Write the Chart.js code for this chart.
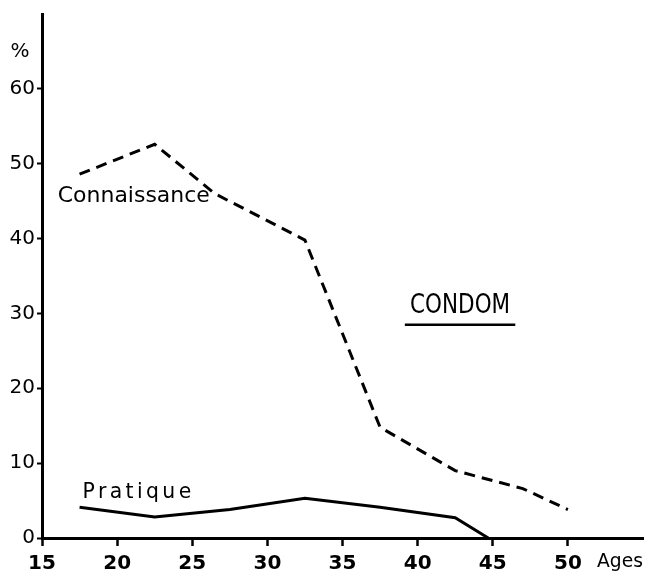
<!DOCTYPE html>
<html>
<head>
<meta charset="utf-8">
<script src="https://cdn.jsdelivr.net/npm/chart.js@4/dist/chart.umd.min.js"></script>
<style>
  html, body { margin: 0; padding: 0; background: #fff; }
  #wrap { width: 656px; height: 581px; }
</style>
</head>
<body>
<div id="wrap"><canvas id="c" width="656" height="581"></canvas></div>
<script>
// Data
const connaissanceAges = [17.5, 22.5, 26.5, 32.5, 37.5, 42.5, 47, 50];
const connaissanceValues = [48.6, 52.6, 46, 39.8, 14.8, 9, 6.6, 3.8];
const pratiqueAges = [17.5, 22.5, 27.5, 32.5, 37.5, 42.5, 44.7];
const pratiqueValues = [4.1, 2.8, 3.8, 5.3, 4.1, 2.7, 0];
const xTickValues = [15, 20, 25, 30, 35, 40, 45, 50];
const yTickValues = [0, 10, 20, 30, 40, 50, 60];
const seriesNames = ['Connaissance', 'Pratique'];
const chartTitle = 'CONDOM';
const yUnit = '%';
const xUnit = 'Ages';

const FONT = '"DejaVu Sans", sans-serif';

function toPoints(xs, ys) { return xs.map((x, i) => ({ x: x, y: ys[i] })); }

// draw text squeezed/stretched horizontally to a target width
function fitText(ctx, text, x, y, width) {
  const w = ctx.measureText(text).width;
  ctx.save();
  ctx.translate(x, y);
  ctx.scale(width / w, 1);
  ctx.textAlign = 'left';
  ctx.fillText(text, 0, 0);
  ctx.restore();
}

const annotations = {
  id: 'annotations',
  afterDraw(chart) {
    const ctx = chart.ctx;
    const xs = chart.scales.x, ys = chart.scales.y;
    ctx.save();
    ctx.fillStyle = '#000';
    ctx.strokeStyle = '#000';
    ctx.textBaseline = 'middle';
    // Connaissance label
    ctx.font = '22px ' + FONT;
    fitText(ctx, seriesNames[0], xs.getPixelForValue(16.05), ys.getPixelForValue(45.6), 152);
    // Pratique label (letter spaced)
    ctx.font = '21px ' + FONT;
    if ('letterSpacing' in ctx) ctx.letterSpacing = '3.5px';
    fitText(ctx, seriesNames[1], xs.getPixelForValue(17.7), ys.getPixelForValue(6.1), 112);
    if ('letterSpacing' in ctx) ctx.letterSpacing = '0px';
    // CONDOM title with underline
    ctx.font = '26px ' + FONT;
    fitText(ctx, chartTitle, xs.getPixelForValue(39.5), ys.getPixelForValue(31), 100);
    ctx.lineWidth = 2.5;
    ctx.beginPath();
    ctx.moveTo(xs.getPixelForValue(39.15), ys.getPixelForValue(28.5));
    ctx.lineTo(xs.getPixelForValue(46.5), ys.getPixelForValue(28.5));
    ctx.stroke();
    // unit labels
    ctx.font = '20px ' + FONT;
    ctx.textAlign = 'center';
    ctx.fillText(yUnit, 20, ys.getPixelForValue(65));
    ctx.font = '20px ' + FONT;
    fitText(ctx, xUnit, 597, 562, 46);
    ctx.restore();
  }
};

new Chart(document.getElementById('c'), {
  type: 'line',
  data: {
    datasets: [
      {
        label: seriesNames[0],
        data: toPoints(connaissanceAges, connaissanceValues),
        borderColor: '#000',
        borderWidth: 3,
        borderDash: [11, 7],
        pointRadius: 0,
        tension: 0,
        fill: false
      },
      {
        label: seriesNames[1],
        data: toPoints(pratiqueAges, pratiqueValues),
        borderColor: '#000',
        borderWidth: 3,
        pointRadius: 0,
        tension: 0,
        fill: false
      }
    ]
  },
  options: {
    responsive: false,
    animation: false,
    events: [],
    layout: { padding: { left: 0, top: 10, right: 13, bottom: 0 } },
    plugins: { legend: { display: false }, tooltip: { enabled: false }, title: { display: false } },
    scales: {
      x: {
        type: 'linear',
        min: 15,
        max: 55,
        afterBuildTicks(scale) { scale.ticks = xTickValues.map(v => ({ value: v })); },
        afterFit(scale) { scale.height = 43; },
        ticks: {
          color: '#000',
          font: { family: FONT, size: 20, weight: 'bold' },
          padding: 6,
          maxRotation: 0,
          autoSkip: false
        },
        grid: { display: true, drawOnChartArea: false, drawTicks: true, tickLength: 8, tickWidth: 2.5, color: '#000' },
        border: { display: true, color: '#000', width: 3 }
      },
      y: {
        type: 'linear',
        min: 0,
        max: 70,
        afterBuildTicks(scale) { scale.ticks = yTickValues.map(v => ({ value: v })); },
        afterFit(scale) { scale.width = 42; },
        ticks: {
          color: '#000',
          font: { family: FONT, size: 20 },
          padding: 2,
          autoSkip: false
        },
        grid: { display: true, drawOnChartArea: false, drawTicks: true, tickLength: 5, tickWidth: 2, color: '#000' },
        border: { display: true, color: '#000', width: 3 }
      }
    }
  },
  plugins: [annotations]
});
</script>
</body>
</html>
